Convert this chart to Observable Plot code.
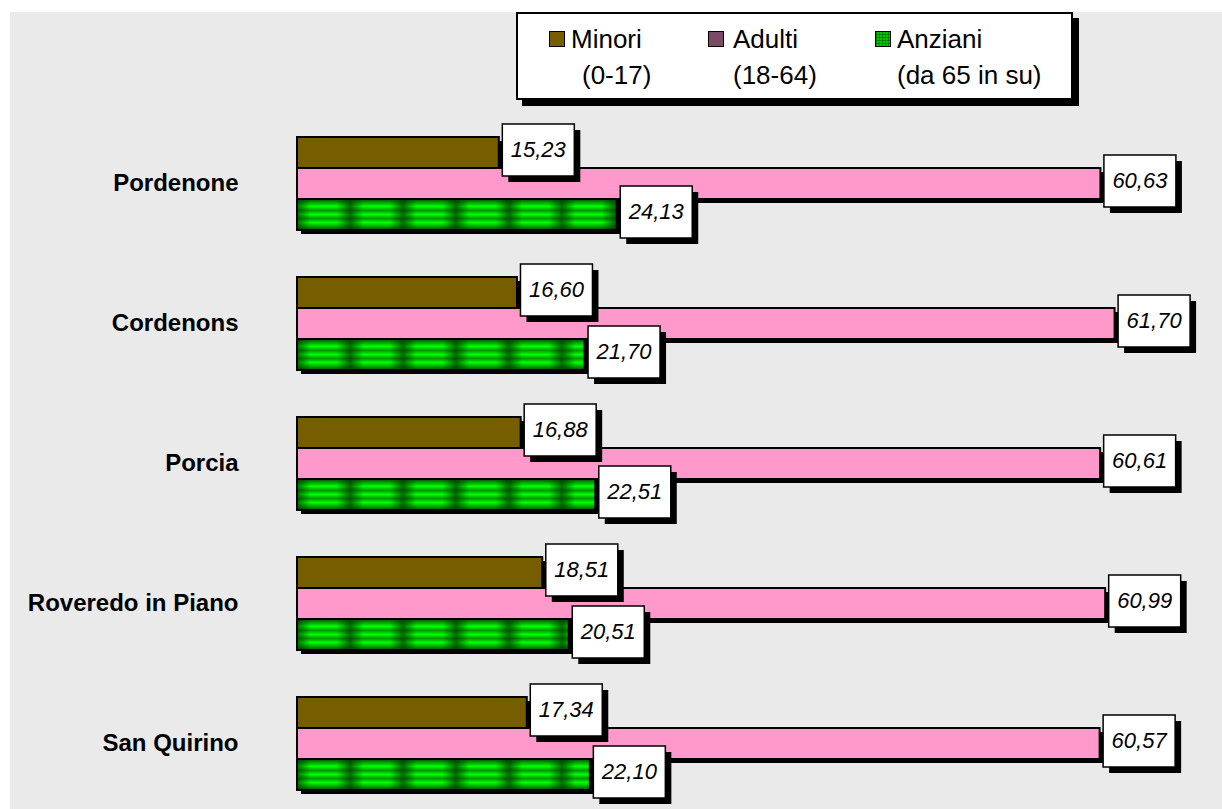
<!DOCTYPE html>
<html>
<head>
<meta charset="utf-8">
<script src="https://cdn.jsdelivr.net/npm/d3@7"></script>
<script src="https://cdn.jsdelivr.net/npm/@observablehq/plot@0.6"></script>
<style>
  html, body { margin: 0; padding: 0; background: #ffffff; }
  #wrap { position: relative; width: 1222px; height: 809px; overflow: hidden; font-family: Arial, "Liberation Sans", sans-serif; }
  #bg { position: absolute; left: 10px; top: 12px; right: 0; bottom: 0; background: #eaeaea; }
  #chart { position: absolute; left: 0; top: 0; }
  #legend { position: absolute; left: 516px; top: 12px; width: 553px; height: 84px; background: #fff; border: 2px solid #000; box-shadow: 6px 6px 0 #000; }
  .item { position: absolute; top: 7px; font-size: 26px; line-height: 36px; color: #000; white-space: nowrap; }
  .sw { position: absolute; width: 14px; height: 14px; border: 1.5px solid #000; }
</style>
</head>
<body>
<div id="wrap">
  <div id="bg"></div>
  <div id="chart"></div>
  <div id="legend"></div>
</div>
<script>
const cities = ["Pordenone", "Cordenons", "Porcia", "Roveredo in Piano", "San Quirino"];
const series = ["Minori", "Adulti", "Anziani"];
const seriesSub = ["(0-17)", "(18-64)", "(da 65 in su)"];
const minori = [15.23, 16.60, 16.88, 18.51, 17.34];
const adulti = [60.63, 61.70, 60.61, 60.99, 60.57];
const anziani = [24.13, 21.70, 22.51, 20.51, 22.10];
const barFills = ["#765e00", "#ff99cc", "url(#gv)"];
const legendFills = ["#765e00", "#7b4a66", "#00c800"];

const values = [minori, adulti, anziani];
const data = [];
cities.forEach((c, i) => series.forEach((s, j) => data.push({city: c, series: s, value: values[j][i], fill: barFills[j]})));
const green = data.filter(d => d.series === "Anziani");
const fmt = v => v.toFixed(2).replace(".", ",");

const boxSymbol = { draw(ctx) { ctx.moveTo(-36, -26); ctx.lineTo(36, -26); ctx.lineTo(36, 26); ctx.lineTo(-36, 26); ctx.closePath(); } };

const chart = Plot.plot({
  width: 1222, height: 809,
  marginLeft: 297, marginRight: 12, marginTop: 135, marginBottom: 17,
  style: { background: "transparent", fontFamily: "Arial, 'Liberation Sans', sans-serif" },
  x: { domain: [0, 68.9], axis: null },
  y: { domain: series, padding: 0, axis: null },
  fy: { domain: cities, paddingInner: 0.326, paddingOuter: 0, axis: null },
  marks: [
    Plot.axisFy({ anchor: "left", tickSize: 0, tickPadding: 59, fontSize: 24, fontWeight: "bold", label: null, fill: "#000" }),
    Plot.barX(data, { x: "value", y: "series", fy: "city", fill: "#000", dx: 4, dy: 4 }),
    Plot.barX(data, { x: "value", y: "series", fy: "city", fill: "fill" }),
    Plot.barX(green, { x: "value", y: "series", fy: "city", fill: "url(#hseg)" }),
    Plot.barX(data, { x: "value", y: "series", fy: "city", fill: "none", stroke: "#000", strokeWidth: 2 }),
    Plot.dot(data, { x: "value", y: "series", fy: "city", symbol: boxSymbol, fill: "#000", stroke: "none", dx: 45, dy: 3 }),
    Plot.dot(data, { x: "value", y: "series", fy: "city", symbol: boxSymbol, fill: "#fff", stroke: "#000", strokeWidth: 1.5, dx: 39, dy: -3 }),
    Plot.text(data, { x: "value", y: "series", fy: "city", text: d => fmt(d.value), dx: 39, dy: -3, fontSize: 22, fontStyle: "italic", fill: "#000" })
  ]
});

// gradient / pattern definitions for the green bars
const ns = "http://www.w3.org/2000/svg";
const defs = document.createElementNS(ns, "defs");
defs.innerHTML = `
  <linearGradient id="gv" x1="0" y1="0" x2="0" y2="1">
    <stop offset="0" stop-color="#004d00"/>
    <stop offset="0.12" stop-color="#00a800"/>
    <stop offset="0.24" stop-color="#00ff00"/>
    <stop offset="0.37" stop-color="#009a00"/>
    <stop offset="0.5" stop-color="#00ff00"/>
    <stop offset="0.63" stop-color="#009a00"/>
    <stop offset="0.76" stop-color="#00ff00"/>
    <stop offset="0.88" stop-color="#00a800"/>
    <stop offset="1" stop-color="#004d00"/>
  </linearGradient>
  <linearGradient id="hg" x1="0" y1="0" x2="1" y2="0">
    <stop offset="0" stop-color="#003300" stop-opacity="0.7"/>
    <stop offset="0.25" stop-color="#003300" stop-opacity="0"/>
    <stop offset="0.75" stop-color="#003300" stop-opacity="0"/>
    <stop offset="1" stop-color="#003300" stop-opacity="0.7"/>
  </linearGradient>
  <pattern id="hseg" patternUnits="userSpaceOnUse" x="297" y="0" width="53" height="2000">
    <rect x="0" y="0" width="53" height="2000" fill="url(#hg)"/>
  </pattern>`;
chart.insertBefore(defs, chart.firstChild);
document.getElementById("chart").appendChild(chart);

// legend
const legend = document.getElementById("legend");
const swatchX = [31, 190, 357];
const textX = [53, 215, 379];
const subX = [64, 215, 379];
series.forEach((s, j) => {
  const sw = document.createElement("div");
  sw.className = "sw";
  sw.style.left = swatchX[j] + "px";
  sw.style.top = "17px";
  sw.style.background = legendFills[j];
  if (j === 2) { sw.style.backgroundImage = "linear-gradient(90deg, rgba(0,80,0,0.5) 1px, transparent 1px), linear-gradient(0deg, rgba(0,80,0,0.5) 1px, transparent 1px)"; sw.style.backgroundSize = "3px 3px"; }
  legend.appendChild(sw);
  const t = document.createElement("div");
  t.className = "item";
  t.style.left = textX[j] + "px";
  t.textContent = s;
  legend.appendChild(t);
  const u = document.createElement("div");
  u.className = "item";
  u.style.left = subX[j] + "px";
  u.style.top = "43px";
  u.textContent = seriesSub[j];
  legend.appendChild(u);
});
</script>
</body>
</html>
